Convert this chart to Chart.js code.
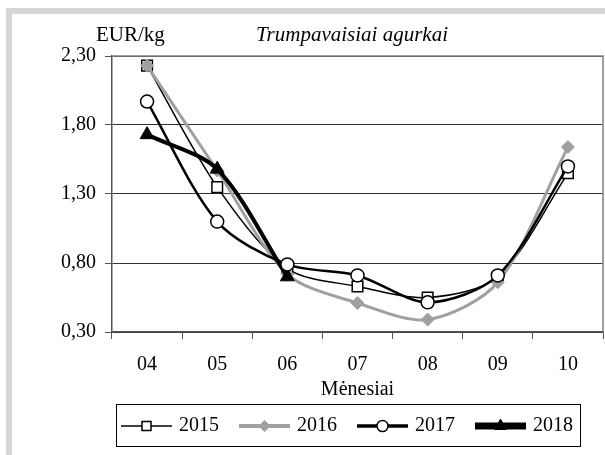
<!DOCTYPE html>
<html lang="lt">
<head>
<meta charset="UTF-8">
<title>Trumpavaisiai agurkai</title>
<script src="https://cdn.jsdelivr.net/npm/chart.js"></script>
<style>
  body { margin: 0; background: #fff; }
</style>
</head>
<body>
<canvas id="myChart" width="605" height="455"></canvas>
<script>
// duomenys
const months = ['04', '05', '06', '07', '08', '09', '10'];
const years = ['2015', '2016', '2017', '2018'];
const v2015 = [2.23, 1.35, 0.76, 0.63, 0.55, 0.70, 1.45];
const v2016 = [2.23, 1.47, 0.72, 0.51, 0.39, 0.66, 1.64];
const v2017 = [1.97, 1.10, 0.79, 0.71, 0.515, 0.71, 1.50];
const v2018 = [1.73, 1.48, 0.70, null, null, null, null];
const yTicks = [0.30, 0.80, 1.30, 1.80, 2.30];

const FONT = "'Liberation Serif', 'Times New Roman', serif";

const styles = [
  { color: '#000', width: 1.5, point: 'rect', radius: 7.5, fill: '#fff', pbw: 1.5, legW: 1.5 },
  { color: '#a0a0a0', width: 3, point: 'rectRot', radius: 6.5, fill: '#a0a0a0', pbw: 1, legW: 4 },
  { color: '#000', width: 2.5, point: 'circle', radius: 6.5, fill: '#fff', pbw: 1.5, legW: 3.5 },
  { color: '#000', width: 4, point: 'triangle', radius: 8, fill: '#000', pbw: 1, legW: 7 }
];
const series = [v2015, v2016, v2017, v2018];
// piešimo tvarka: 2017 viršuje, tada 2018, 2016, 2015
const drawOrder = [3, 2, 0, 1];

const decor = {
  id: 'decor',
  beforeDraw(chart) {
    const c = chart.ctx;
    c.save();
    c.fillStyle = '#d6d6d6';
    c.fillRect(6, 8, 6, 447);
    c.fillRect(6, 8, 599, 6);
    c.restore();
  },
  beforeDatasetsDraw(chart) {
    const c = chart.ctx, a = chart.chartArea;
    c.save();
    c.strokeStyle = '#808080';
    c.lineWidth = 1.5;
    c.beginPath();
    c.moveTo(a.left, a.top);
    c.lineTo(a.right, a.top);
    c.lineTo(a.right, a.bottom);
    c.stroke();
    c.restore();
  },
  afterDraw(chart) {
    const c = chart.ctx, a = chart.chartArea;
    c.save();
    c.fillStyle = '#000';
    c.textBaseline = 'middle';
    c.font = '21px ' + FONT;
    c.textAlign = 'left';
    c.fillText('EUR/kg', 96, 35);
    c.font = '20px ' + FONT;
    c.textAlign = 'center';
    c.fillText('Mėnesiai', (a.left + a.right) / 2, 390);
    c.font = 'italic 21px ' + FONT;
    c.fillText('Trumpavaisiai agurkai', 352, 35);

    // legenda
    c.strokeStyle = '#000';
    c.lineWidth = 1;
    c.strokeRect(116.5, 404.5, 464, 42);
    c.font = '20px ' + FONT;
    c.textAlign = 'left';
    let x = 121;
    const y = 426;
    years.forEach((yr, i) => {
      const s = styles[i];
      c.strokeStyle = s.color;
      c.lineWidth = s.legW;
      c.beginPath();
      c.moveTo(x, y);
      c.lineTo(x + 51, y);
      c.stroke();
      c.fillStyle = s.fill;
      c.strokeStyle = s.color;
      c.lineWidth = s.pbw;
      Chart.helpers.drawPoint(c, { pointStyle: s.point, radius: s.radius * 0.85, rotation: 0, borderWidth: s.pbw }, x + 25.5, y);
      c.fillStyle = '#000';
      c.fillText(yr, x + 58, y);
      x += 58 + c.measureText(yr).width + 20;
    });
    c.restore();
  }
};

const ctx = document.getElementById('myChart').getContext('2d');
const chart = new Chart(ctx, {
  type: 'line',
  data: {
    labels: months,
    datasets: years.map((yr, i) => ({
      label: yr,
      data: series[i],
      order: drawOrder[i],
      borderColor: styles[i].color,
      borderWidth: styles[i].width,
      tension: 0.3,
      pointStyle: styles[i].point,
      pointRadius: styles[i].radius,
      pointBackgroundColor: styles[i].fill,
      pointBorderColor: styles[i].color,
      pointBorderWidth: styles[i].pbw
    }))
  },
  options: {
    responsive: false,
    animation: false,
    layout: { autoPadding: false, padding: { top: 56, right: 2, bottom: 78, left: 0 } },
    plugins: {
      legend: { display: false },
      tooltip: { enabled: false }
    },
    scales: {
      x: {
        offset: true,
        grid: { offset: true, drawOnChartArea: false, drawTicks: true, tickLength: 7, color: '#555' },
        border: { color: '#555', width: 1.5 },
        ticks: { color: '#000', font: { family: FONT, size: 20 }, padding: 14 },
        afterFit(s) { s.height = 45; s.paddingLeft = 0; s.paddingRight = 0; }
      },
      y: {
        min: 0.30,
        max: 2.30,
        afterBuildTicks(s) { s.ticks = yTicks.map(v => ({ value: v })); },
        grid: { color: '#333', lineWidth: 1, tickLength: 7, tickColor: '#555' },
        border: { color: '#555', width: 1.5 },
        ticks: {
          color: '#000',
          font: { family: FONT, size: 20 },
          padding: 9,
          callback: v => v.toFixed(2).replace('.', ',')
        },
        afterFit(s) { s.width = 112; s.paddingTop = 0; s.paddingBottom = 0; }
      }
    }
  },
  plugins: [decor]
});
</script>
</body>
</html>
